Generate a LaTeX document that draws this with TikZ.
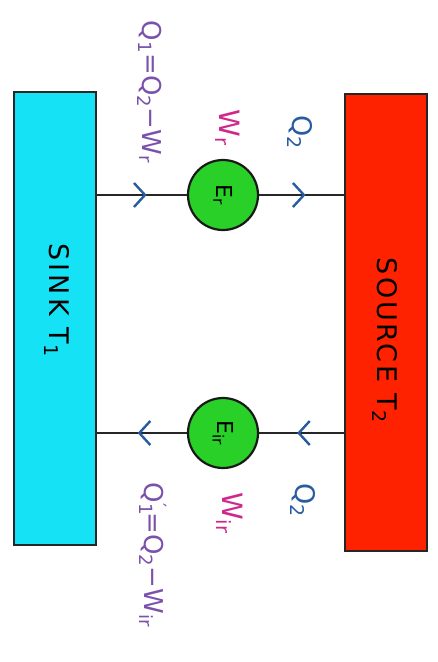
\documentclass[tikz,border=0pt]{standalone}
\usepackage{fontspec}
\setmainfont{DejaVu Sans}
\usetikzlibrary{arrows.meta,decorations.markings}
\definecolor{sinkcyan}{RGB}{22,226,246}
\definecolor{sourcered}{RGB}{255,34,0}
\definecolor{enggreen}{RGB}{40,208,40}
\definecolor{qblue}{RGB}{40,92,160}
\definecolor{wmagenta}{RGB}{206,40,140}
\definecolor{qpurple}{RGB}{122,82,172}
\tikzset{
  reservoir/.style={draw=black!85, line width=2.8pt, minimum width=82pt, inner sep=0pt},
  engine/.style={circle, draw=black!90, fill=enggreen, line width=2.2pt, minimum size=70pt,
    inner sep=0pt, font=\fontsize{22}{22}\selectfont},
  flow/.style={line width=2.8pt, black!85, postaction={decorate},
    decoration={markings, mark=at position 0.55 with
      {\arrow{Straight Barb[length=11pt,width=24pt,line width=2.4pt,color=qblue]}}}},
  tlabel/.style={rotate=-90, inner sep=0pt},
  qlabel/.style={tlabel, text=qblue, font=\fontsize{27}{27}\selectfont},
  wlabel/.style={tlabel, text=wmagenta, font=\fontsize{28}{28}\selectfont},
  heatlabel/.style={tlabel, text=qpurple, font=\fontsize{26}{26}\selectfont}
}
\begin{document}
\begin{tikzpicture}[x=1pt,y=-1pt]
  \useasboundingbox (0,0) rectangle (437,662);
  % reservoirs
  \node[reservoir, fill=sinkcyan, minimum height=453pt] (sink) at (55,318.5) {};
  \node[reservoir, fill=sourcered, minimum height=457pt] (source) at (386,322.5) {};
  \node[tlabel, font=\fontsize{27}{27}\selectfont\addfontfeature{LetterSpace=12}] (sinktxt) at (57,300) {SINK T\textsubscript{1}};
  \node[tlabel, font=\fontsize{27}{27}\selectfont\addfontfeature{LetterSpace=10}] (sourcetxt) at (385,340) {SOURCE T\textsubscript{2}};
  % engines
  \node[engine] (er) at (223,195) {\rotatebox{-90}{E\textsubscript{r}}};
  \node[engine] (eir) at (223,433) {\rotatebox{-90}{E\textsubscript{ir}}};
  \draw[flow] (sink.east |- er) -- (er);
  \draw[flow] (er) -- (source.west |- er);
  \draw[flow] (source.west |- eir) -- (eir);
  \draw[flow] (eir) -- (sink.east |- eir);
  % labels
  \node[heatlabel] (q1) at (150,92) {Q\textsubscript{1}=Q\textsubscript{2}−W\textsubscript{r}};
  \node[wlabel] (wr) at (228,128) {W\textsubscript{r}};
  \node[qlabel] (q2top) at (300,132) {Q\textsubscript{2}};
  \node[qlabel] (q2bot) at (303,500) {Q\textsubscript{2}};
  \node[wlabel] (wir) at (230,513) {W\textsubscript{ir}};
  \node[heatlabel] (q1p) at (153,555) {Q\rlap{\textsubscript{1}}\textsuperscript{′}\,=Q\textsubscript{2}−W\textsubscript{ir}};
\end{tikzpicture}
\end{document}
